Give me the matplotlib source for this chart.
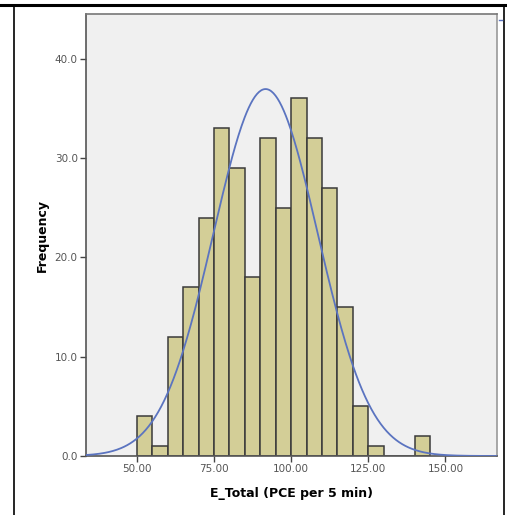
import numpy as np
import matplotlib
matplotlib.use("Agg")
import matplotlib.pyplot as plt
from matplotlib.lines import Line2D

# histogram bins (width 5) and counts
bin_edges = [50, 55, 60, 65, 70, 75, 80, 85, 90, 95, 100, 105, 110, 115, 120, 125, 130, 135, 140, 145]
counts = [4, 1, 12, 17, 24, 33, 29, 18, 32, 25, 36, 32, 27, 15, 5, 1, 0, 0, 2]

# normal curve parameters
mean_val = 91.7
std_val = 16.9
n_total = sum(counts)
bin_width = 5

x_ticks = [50, 75, 100, 125, 150]
x_tick_labels = ["50.00", "75.00", "100.00", "125.00", "150.00"]
y_ticks = [0, 10, 20, 30, 40]
y_tick_labels = ["0.0", "10.0", "20.0", "30.0", "40.0"]

fig = plt.figure(figsize=(5.07, 5.15), dpi=100)
ax = fig.add_axes([86 / 507, 1 - 456 / 515, 411 / 507, 442 / 515])
ax.set_facecolor("#f0f0f0")

lefts = bin_edges[:-1]
ax.bar(lefts, counts, width=bin_width, align="edge", color="#d3ce97",
       edgecolor="#3a3a3a", linewidth=1.1, zorder=2)

xs = np.linspace(33.5, 166.7, 400)
pdf = n_total * bin_width / (std_val * np.sqrt(2 * np.pi)) * np.exp(-0.5 * ((xs - mean_val) / std_val) ** 2)
ax.plot(xs, pdf, color="#5b74c0", linewidth=1.3, zorder=3)

ax.set_xlim(33.5, 166.7)
ax.set_ylim(0, 44.5)
ax.set_xticks(x_ticks)
ax.set_xticklabels(x_tick_labels)
ax.set_yticks(y_ticks)
ax.set_yticklabels(y_tick_labels)
ax.tick_params(axis="both", direction="out", length=4, width=1, color="#444444",
               labelsize=7.5, labelcolor="#555555", pad=2)

for s in ax.spines.values():
    s.set_color("#555555")
    s.set_linewidth(1.2)
ax.spines["right"].set_color("#999999")
ax.spines["top"].set_color("#777777")

ax.set_xlabel("E_Total (PCE per 5 min)", fontsize=9, fontweight="bold", labelpad=9)
ax.set_ylabel("Frequency", fontsize=9, fontweight="bold", labelpad=4)

# outer frame lines
fig.add_artist(Line2D([0, 1], [1 - 5 / 515, 1 - 5 / 515], color="black", linewidth=2.2))
fig.add_artist(Line2D([14 / 507, 14 / 507], [0, 1 - 5 / 515], color="black", linewidth=1.2))
fig.add_artist(Line2D([504 / 507, 504 / 507], [0, 1 - 5 / 515], color="black", linewidth=1.2))
# small legend stub at top right
fig.add_artist(Line2D([499 / 507, 502 / 507], [1 - 20 / 515, 1 - 20 / 515], color="#5b74c0", linewidth=1))

fig.savefig("out.png", dpi=100)
